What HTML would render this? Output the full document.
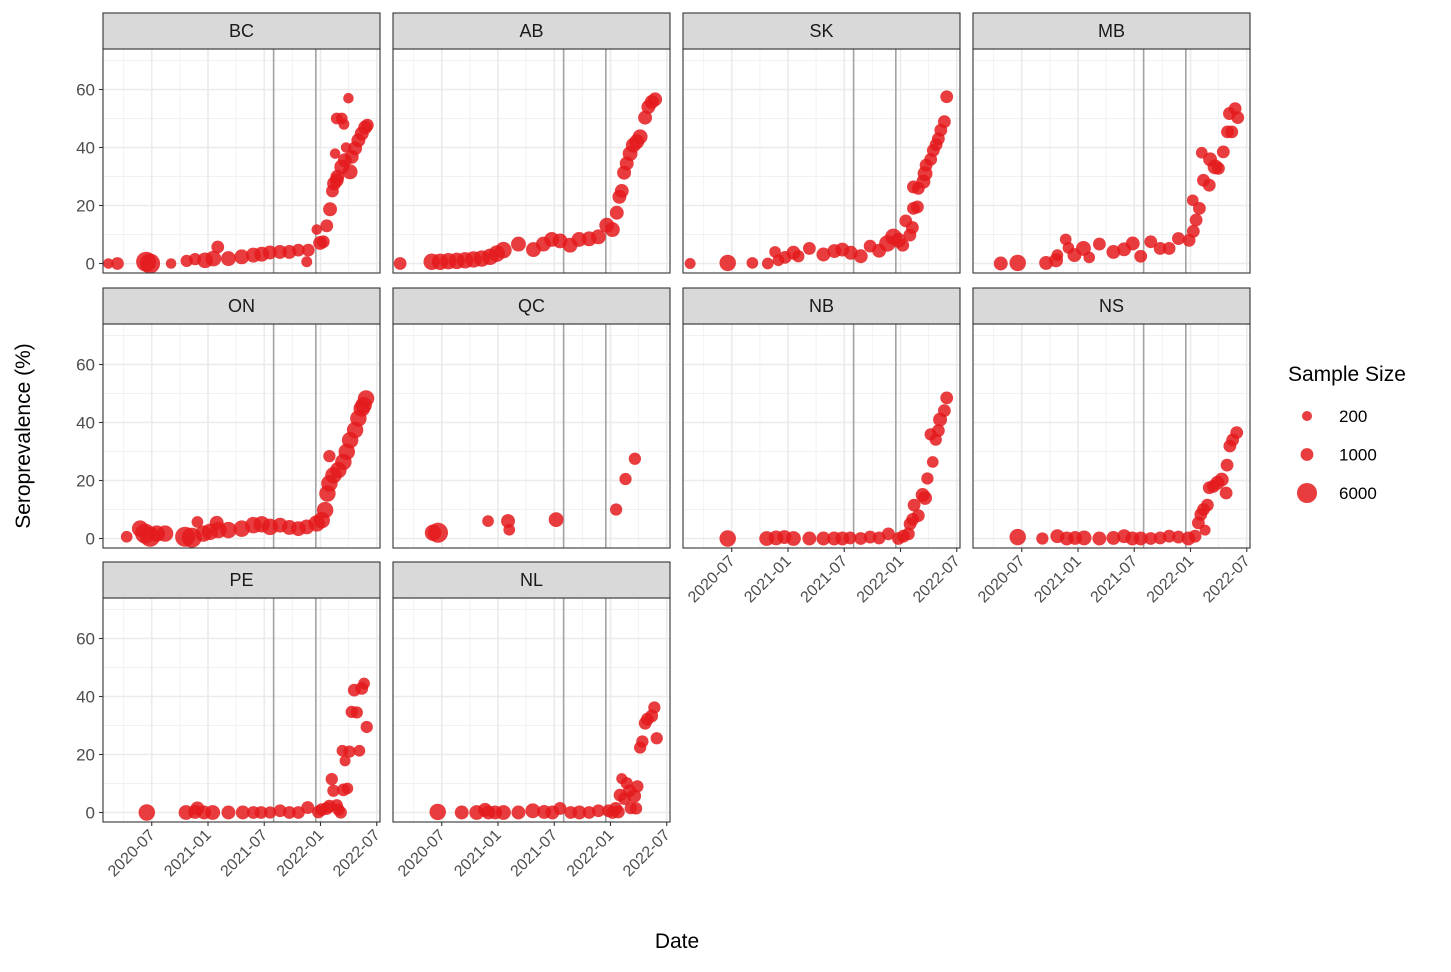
<!DOCTYPE html>
<html><head><meta charset="utf-8"><style>
body{margin:0;background:#fff;}
svg text{font-family:"Liberation Sans",Arial,sans-serif;}
</style></head><body>
<svg id="chart" width="1451" height="967" xmlns="http://www.w3.org/2000/svg"></svg>
<script>
// x values = months since 2020-07; y = seroprevalence %; n = sample size
const provinces = ["BC","AB","SK","MB","ON","QC","NB","NS","PE","NL"];
const yTicks = [0,20,40,60];
const xTickMonths = [0,6,12,18,24];
const xTickLabels = ["2020-07","2021-01","2021-07","2022-01","2022-07"];
const refLineMonths = [13, 17.5];
const legendSizes = [200,1000,6000];

const bcMonths=[-4.62,-3.66,-0.6,-0.18,2.06,3.73,4.62,5.69,6.58,7.04,8.18,9.6,10.84,11.73,12.6,13.67,14.68,15.64,16.53,16.7,17.6,17.96,18.3,18.67,19.02,19.27,19.45,19.56,19.73,20.27,20.5,20.98,20.73,19.8,20.27,21.16,21.33,21.69,22.04,22.4,22.76,23.0,20.6,19.73];
const bcValues=[0,0,0.6,0,0,0.9,1.5,1.1,1.7,5.7,1.7,2.3,2.9,3.2,3.8,4,4,4.6,0.6,4.6,11.7,7.1,7.5,13,18.7,25,27.6,37.9,50,50,48,57,40,29.9,33.3,31.6,36.8,39.7,42.5,44.8,46.9,47.7,35.6,28.7];
const bcSizes=[300,1000,6000,6000,300,800,800,2500,2500,1000,2000,2000,2000,2000,1500,1500,1500,1000,400,1000,300,1500,1000,1000,1500,1000,1500,300,600,600,400,300,300,1500,2000,2000,1500,1500,1500,1500,1500,1000,1500,1500];

const abMonths=[-4.44,-1.07,-0.18,0.71,1.6,2.49,3.38,4.27,5.16,5.87,6.58,8.18,9.78,10.84,11.73,12.62,13.69,14.65,15.72,16.71,17.6,18.2,18.67,18.95,19.2,19.45,19.73,20.09,20.44,20.8,21.16,21.69,22.04,22.4,22.76];
const abValues=[0,0.6,0.6,0.8,0.9,1.1,1.4,1.7,2.3,3.4,4.6,6.7,4.8,6.7,8.3,7.8,6.3,8.3,8.5,9.2,13.2,11.7,17.5,23,25,31.3,34.5,37.9,40.8,42,43.7,50.3,54,55.7,56.6];
const abSizes=[1000,3000,3000,3000,3000,3000,3000,3000,3000,3000,3000,2000,2000,2000,2000,2000,2000,2000,2000,2000,2000,2000,1500,1500,1500,1500,1500,2000,2000,2000,2000,1500,1500,1500,1500];

const skMonths=[-4.44,-0.43,2.2,3.84,4.62,4.98,5.69,6.58,7.1,8.28,9.78,10.95,11.8,12.69,13.76,14.76,15.72,16.6,17.24,17.78,18.24,18.56,19.0,19.27,19.38,19.8,19.38,19.9,20.44,20.62,20.73,21.22,21.5,21.8,22.04,22.3,22.68,22.93];
const skValues=[0,0.2,0.2,0,4,1.1,2.1,3.7,2.5,5.2,3.1,4.3,4.8,3.7,2.5,6,4.4,6.9,9.2,8,6.3,14.7,9.8,12.4,19,19.5,26.4,25.9,28.2,31,33.9,35.9,39,41,43,46,48.9,57.5];
const skSizes=[400,3000,600,600,600,600,1000,1500,800,1000,1500,1500,1500,1500,1500,1000,1500,3000,3000,2000,1000,1000,1000,1000,1000,1000,1000,1000,1500,2000,1000,1000,1000,1000,1000,1000,1000,1000];

const mbMonths=[-2.24,-0.43,2.6,3.66,3.8,4.69,4.98,5.62,6.58,7.2,8.28,9.78,10.92,11.84,12.69,13.76,14.76,15.72,16.71,17.85,18.24,18.3,18.6,18.95,19.2,19.38,20,20.09,20.62,20.98,21.5,21.94,22.4,22.15,22.76,23.04];
const mbValues=[0,0.2,0.2,1.1,2.9,8.3,5.4,2.9,5.2,2.1,6.7,4,4.9,6.9,2.5,7.5,5.2,5.2,8.6,8,21.8,11.1,15,19,38.2,28.7,27,35.9,33.3,32.8,38.5,45.4,45.4,51.7,53.4,50.3];
const mbSizes=[1500,3000,1500,1500,600,600,600,1500,2000,600,1000,1500,1500,1500,1000,1000,1000,1000,1000,1000,600,1000,1000,1000,600,1000,1000,1500,2000,1000,1000,1000,1000,1000,1000,1000];

const onMonths=[-2.67,-1.24,-0.71,-0.18,0.53,1.42,3.56,4.27,4.87,5.51,6.22,6.93,7.11,8.18,9.6,10.84,11.73,12.62,13.69,14.68,15.64,16.53,17.6,18.13,18.49,18.74,18.95,18.95,19.38,19.91,20.44,20.8,21.16,21.69,22.04,22.4,22.86,22.6];
const onValues=[0.6,3.4,1.7,0.6,1.7,1.7,0.6,0.3,5.7,1.7,2.3,5.4,2.9,2.9,3.4,4.6,4.9,4,4.6,3.8,3.4,4,5.2,6.3,9.8,15.5,19,28.4,21.8,23.6,26.4,29.9,33.9,37.4,41.4,44.8,48.3,46];
const onSizes=[600,3000,6000,6000,3000,3000,6000,6000,600,3000,3000,1500,3000,3000,3000,3000,3000,3000,2000,2000,2000,2000,3000,3000,3000,3000,3000,800,3000,3000,3000,3000,3000,3000,3000,3000,3000,3000];

const qcMonths=[-0.93,-0.4,4.94,7.07,7.2,12.2,18.6,19.6,20.6];
const qcValues=[2,2,6,6,3,6.5,10,20.5,27.5];
const qcSizes=[3000,6000,600,1500,600,2000,800,800,800];

const nbMonths=[-0.43,3.73,4.73,5.62,6.58,8.28,9.78,10.92,11.8,12.62,13.76,14.76,15.72,16.71,17.78,18.31,18.84,19.02,19.3,19.9,19.45,20.36,20.62,20.87,21.44,21.22,21.76,22.04,22.22,22.68,22.93];
const nbValues=[0,0,0.2,0.5,0,0,0,0,0,0.2,0,0.5,0.2,1.6,0,0.8,1.6,5,6.6,7.9,11.5,15,14,20.7,26.4,35.9,34.1,37.2,41,44.1,48.5];
const nbSizes=[3000,2000,2000,1500,2000,1500,1500,1500,1500,1000,1000,1000,1000,1000,1000,1000,1000,1000,1000,1000,1000,1500,1500,800,600,800,800,1000,1500,1000,1000];

const nsMonths=[-0.43,2.2,3.8,4.8,5.69,6.65,8.28,9.78,10.92,11.8,12.69,13.76,14.76,15.72,16.71,17.78,18.49,18.84,19.1,19.38,19.8,19.56,20.0,20.44,20.87,21.33,21.8,21.9,22.2,22.5,22.93];
const nsValues=[0.5,0,0.8,0,0.2,0.2,0,0.2,0.8,0,0,0,0.2,0.8,0.5,0,0.8,5.4,8.3,10,11.5,2.9,17.5,18,19.2,20.3,15.7,25.3,31.9,34,36.5];
const nsSizes=[3000,800,1500,1500,1500,2000,1500,1500,1500,1500,1500,1000,1000,1000,1000,1500,1000,1000,1000,1000,1000,400,1000,1000,1500,1500,1000,1000,1000,1000,1000];

const peMonths=[-0.53,3.66,4.62,4.87,5.58,6.5,8.18,9.71,10.84,11.66,12.62,13.69,14.68,15.64,16.64,17.78,18.13,18.67,18.95,19.73,19.91,20.16,19.2,19.38,20.34,20.62,20.45,20.87,21.08,21.33,21.87,21.6,22.15,22.4,22.65,22.93];
const peValues=[0,0,0.2,1.4,0,0,0,0,0,0,0,0.6,0,0,1.7,0.2,1,1.4,2.2,2.5,1,0,11.5,7.5,21.3,17.8,7.8,8.3,21,34.7,34.5,42.2,21.3,42.8,44.5,29.5];
const peSizes=[3000,2000,1500,1500,1500,2000,1500,1500,1000,1000,800,1000,1000,1000,1000,1000,1000,1000,1000,800,800,800,800,800,600,400,1000,600,800,800,800,1000,600,1000,600,800];

const nlMonths=[-0.43,2.13,3.73,4.62,4.98,5.69,6.58,8.18,9.71,10.92,11.8,12.62,13.76,14.68,15.72,16.71,17.78,18.24,18.56,18.84,19.2,19.73,19.02,19.49,20.02,20.52,20.87,20.16,20.73,21.16,21.4,21.7,21.94,22.4,22.68,22.93];
const nlValues=[0.2,0,0,0.9,0,0,0,0,0.6,0.2,0,1.4,0,0,0,0.6,0.6,0,1.4,0.2,11.7,10.1,6,4.8,7.5,5.7,9,1.5,1.4,22.4,24.5,30.8,32.2,33.3,36.2,25.6];
const nlSizes=[3000,1500,2000,1500,1500,1500,2000,1500,2000,1500,1500,1000,1000,1500,1000,1000,1000,1000,1000,1000,400,800,1000,1000,1000,1500,800,800,800,800,800,1000,1000,1000,800,800];

const series={BC:[bcMonths,bcValues,bcSizes],AB:[abMonths,abValues,abSizes],SK:[skMonths,skValues,skSizes],MB:[mbMonths,mbValues,mbSizes],ON:[onMonths,onValues,onSizes],QC:[qcMonths,qcValues,qcSizes],NB:[nbMonths,nbValues,nbSizes],NS:[nsMonths,nsValues,nsSizes],PE:[peMonths,peValues,peSizes],NL:[nlMonths,nlValues,nlSizes]};

const svg=document.getElementById('chart');
const NS='http://www.w3.org/2000/svg';
function mk(tag,attrs,parent){const e=document.createElementNS(NS,tag);for(const k in attrs)e.setAttribute(k,attrs[k]);(parent||svg).appendChild(e);return e;}
const colLeft=[103,393,683,973], rowTop=[49,324,598], PW=277, PH=224;
function xScale(m,c){return colLeft[c]+(m+5.2)*9.375;}
function yScale(v,r){return rowTop[r]+214.5-v*2.9;}
function rScale(n){return 3.9+0.079*Math.sqrt(n);}
const bottomAxis={BC:false,AB:false,SK:false,MB:false,ON:false,QC:false,NB:true,NS:true,PE:true,NL:true};

provinces.forEach((p,i)=>{
  const c=i%4, r=Math.floor(i/4);
  const L=colLeft[c], T=rowTop[r];
  const g=mk('g',{});
  
  
  const bg=mk('rect',{x:L,y:T,width:PW,height:PH,fill:'#fff'},g);
  
  
  // minor grid
  [-3,3,9,15,21].forEach(m=>mk('line',{x1:xScale(m,c),x2:xScale(m,c),y1:T,y2:T+PH,stroke:'#F2F2F2','stroke-width':1},g));
  [10,30,50,70].forEach(v=>mk('line',{x1:L,x2:L+PW,y1:yScale(v,r),y2:yScale(v,r),stroke:'#F2F2F2','stroke-width':1},g));
  xTickMonths.forEach(m=>mk('line',{x1:xScale(m,c),x2:xScale(m,c),y1:T,y2:T+PH,stroke:'#EBEBEB','stroke-width':1.6},g));
  yTicks.forEach(v=>mk('line',{x1:L,x2:L+PW,y1:yScale(v,r),y2:yScale(v,r),stroke:'#EBEBEB','stroke-width':1.6},g));
  refLineMonths.forEach(m=>{const l=mk('line',{x1:xScale(m,c),x2:xScale(m,c),y1:T,y2:T+PH,stroke:'#A3A3A3','stroke-width':1.6},g);
    
    });
  const [ms,vs,ns]=series[p];
  ms.forEach((m,k)=>{const pt=mk('circle',{cx:xScale(m,c),cy:yScale(vs[k],r),r:rScale(ns[k]),fill:'#E41A1C','fill-opacity':0.85},g);
    
    });
  mk('rect',{x:L,y:T,width:PW,height:PH,fill:'none',stroke:'#333','stroke-width':1.1},g);
  const st=mk('rect',{x:L,y:T-36,width:PW,height:36,fill:'#D9D9D9',stroke:'#333','stroke-width':1.1},g);
  
  
  const stt=mk('text',{x:L+PW/2,y:T-12,'text-anchor':'middle','font-size':18,fill:'#1a1a1a'},g);
  stt.textContent=p;
  
  
  if(c===0){
    yTicks.forEach(v=>{const y=yScale(v,r);
      mk('line',{x1:L-4,x2:L,y1:y,y2:y,stroke:'#333','stroke-width':1.1},g);
      const t=mk('text',{x:L-8,y:y+6,'text-anchor':'end','font-size':17,fill:'#4D4D4D'},g);
      t.textContent=v;
      
      });
  }
  if(bottomAxis[p]){
    xTickMonths.forEach((m,k)=>{const x=xScale(m,c), y=T+PH;
      mk('line',{x1:x,x2:x,y1:y,y2:y+4,stroke:'#333','stroke-width':1.1},g);
      const t=mk('text',{x:x+4,y:y+14,'text-anchor':'end','font-size':16,fill:'#4D4D4D',transform:`rotate(-45 ${x+4} ${y+14})`},g);
      t.textContent=xTickLabels[k];
      
      });
  }
});
const yt=mk('text',{x:30,y:436,'text-anchor':'middle','font-size':21,fill:'#000',transform:'rotate(-90 30 436)'});
yt.textContent='Seroprevalence (%)';


const xt=mk('text',{x:677,y:948,'text-anchor':'middle','font-size':21,fill:'#000'});
xt.textContent='Date';


const lg=mk('g',{});


const lt=mk('text',{x:1288,y:381,'font-size':21,fill:'#000'},lg);
lt.textContent='Sample Size';


legendSizes.forEach((n,k)=>{const y=416+k*38.5;
  const c=mk('circle',{cx:1307,cy:y,r:rScale(n),fill:'#E41A1C','fill-opacity':0.85},lg);
  
  
  const t=mk('text',{x:1339,y:y+6,'font-size':17,fill:'#000'},lg);
  t.textContent=n;
  
  });
</script>
</body></html>
